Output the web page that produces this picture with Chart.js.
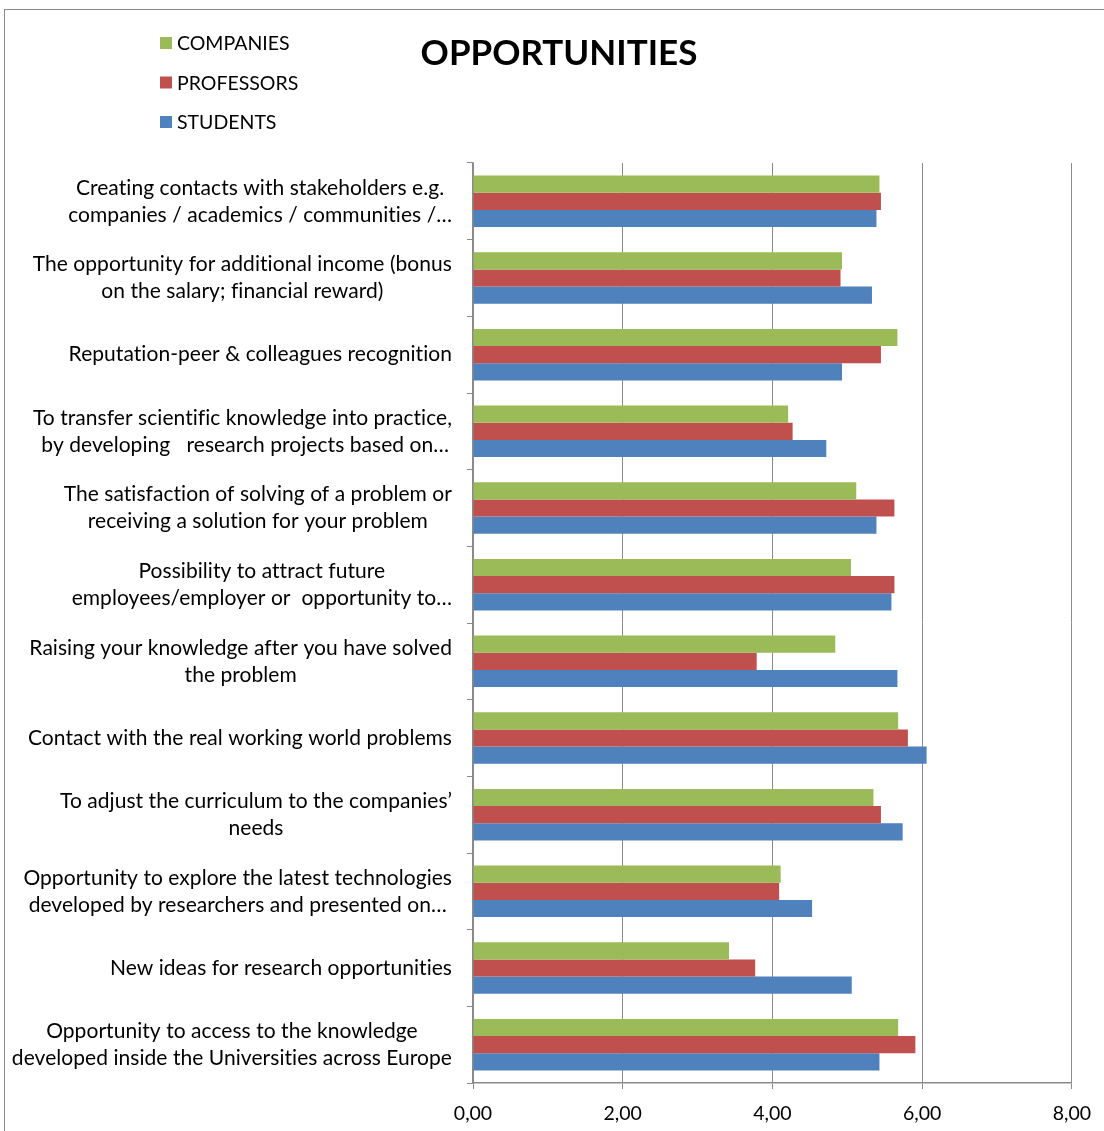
<!DOCTYPE html>
<html>
<head>
<meta charset="utf-8">
<title>OPPORTUNITIES</title>
<script src="https://cdn.jsdelivr.net/npm/chart.js@4.4.1/dist/chart.umd.min.js"></script>
<style>
  html, body { margin: 0; padding: 0; background: #fff; }
  #wrap { position: relative; width: 1104px; height: 1131px; }
</style>
</head>
<body>
<div id="wrap"><canvas id="chart"></canvas></div>
<script>
// Category labels (one entry per line of the wrapped label)
const categories = [
  ["Creating contacts with stakeholders e.g.", "companies / academics / communities /…"],
  ["The opportunity for additional income (bonus", "on the salary; financial reward)"],
  ["Reputation-peer & colleagues recognition"],
  ["To transfer scientific knowledge into practice,", " by developing   research projects based on…"],
  ["The satisfaction of solving of a problem or", "receiving a solution for your problem"],
  ["Possibility to attract future", "employees/employer or  opportunity to…"],
  ["Raising your knowledge after you have solved", "the problem"],
  ["Contact with the real working world problems"],
  ["To adjust the curriculum to the companies’", "needs"],
  ["Opportunity to explore the latest technologies", "developed by researchers and presented on…"],
  ["New ideas for research opportunities"],
  ["Opportunity to access to the knowledge", "developed inside the Universities across Europe"]
];

const seriesNames = ["COMPANIES", "PROFESSORS", "STUDENTS"];

const companies  = [5.43, 4.93, 5.67, 4.21, 5.12, 5.05, 4.84, 5.68, 5.35, 4.11, 3.42, 5.68];
const professors = [5.45, 4.91, 5.45, 4.27, 5.63, 5.63, 3.79, 5.81, 5.45, 4.09, 3.77, 5.91];
const students   = [5.39, 5.33, 4.93, 4.72, 5.39, 5.59, 5.67, 6.06, 5.74, 4.53, 5.06, 5.43];

const xTicks = [0, 2, 4, 6, 8];

const chartTitle = "OPPORTUNITIES";

const COLORS = ["#9BBB59", "#C0504D", "#4F81BD"];
const GRID = "#8a8a8a";
const FONT = "Lato, 'Open Sans', sans-serif";

// Outer frame of the chart object
const framePlugin = {
  id: 'frame',
  beforeDraw(chart) {
    const ctx = chart.ctx;
    ctx.save();
    ctx.strokeStyle = GRID;
    ctx.lineWidth = 1;
    ctx.strokeRect(4.5, 9.5, 1300, 1300);
    ctx.restore();
  }
};

// Category labels: each block right-aligned against the axis, lines centred within the block
const categoryLabelPlugin = {
  id: 'categoryLabels',
  afterDraw(chart) {
    const ctx = chart.ctx;
    const yScale = chart.scales.y;
    const right = chart.chartArea.left - 21;
    const lineH = 27;
    ctx.save();
    ctx.font = "21px " + FONT;
    if ('letterSpacing' in ctx) ctx.letterSpacing = "0.05px"; // keeps "ti"/"fi" as separate letters
    ctx.fillStyle = "#000";
    ctx.textAlign = "center";
    ctx.textBaseline = "middle";
    chart.data.labels.forEach((lines, i) => {
      const cy = yScale.getPixelForValue(i);
      const w = Math.max(...lines.map(l => ctx.measureText(l).width));
      const cx = right - w / 2;
      lines.forEach((l, k) => {
        ctx.fillText(l, cx, cy + (k - (lines.length - 1) / 2) * lineH);
      });
    });
    ctx.restore();
  }
};

// Title and vertical legend in the top band
const headerPlugin = {
  id: 'header',
  afterDraw(chart) {
    const ctx = chart.ctx;
    ctx.save();
    ctx.fillStyle = "#000";
    ctx.textBaseline = "middle";
    ctx.textAlign = "center";
    ctx.font = "bold 35px " + FONT;
    ctx.fillText(chartTitle, 559, 54);

    ctx.textAlign = "left";
    ctx.font = "19.5px " + FONT;
    const rows = [43, 82.5, 122];
    chart.data.datasets.forEach((ds, i) => {
      ctx.fillStyle = ds.backgroundColor;
      ctx.fillRect(160, rows[i] - 6, 12, 12);
      ctx.fillStyle = "#000";
      ctx.fillText(ds.label, 177, rows[i] + 1);
    });
    ctx.restore();
  }
};

new Chart(document.getElementById('chart'), {
  type: 'bar',
  data: {
    labels: categories,
    datasets: [
      { label: seriesNames[0], data: companies,  backgroundColor: COLORS[0] },
      { label: seriesNames[1], data: professors, backgroundColor: COLORS[1] },
      { label: seriesNames[2], data: students,   backgroundColor: COLORS[2] }
    ]
  },
  options: {
    indexAxis: 'y',
    responsive: true,
    maintainAspectRatio: false,
    animation: false,
    devicePixelRatio: 1,
    layout: { padding: { top: 163, right: 32, left: 0, bottom: 0 } },
    datasets: { bar: { categoryPercentage: 0.672, barPercentage: 1.0 } },
    plugins: {
      legend: { display: false },
      title: { display: false },
      tooltip: { enabled: false }
    },
    scales: {
      x: {
        type: 'linear',
        position: 'bottom',
        min: 0,
        max: 8,
        afterBuildTicks(scale) { scale.ticks = xTicks.map(v => ({ value: v })); },
        afterFit(scale) { scale.height = 48; },
        ticks: {
          color: "#000",
          font: { family: FONT, size: 19.5 },
          padding: 13,
          callback: v => v.toFixed(2).replace('.', ',')
        },
        grid: { color: GRID, lineWidth: 1, tickLength: 6 },
        border: { color: GRID, width: 1.5 }
      },
      y: {
        type: 'category',
        position: 'left',
        afterFit(scale) { scale.width = 473; },
        ticks: { display: false },
        grid: { drawOnChartArea: false, color: GRID, tickLength: 6, offset: true },
        border: { color: GRID, width: 1.5 }
      }
    }
  },
  plugins: [framePlugin, categoryLabelPlugin, headerPlugin]
});
</script>
</body>
</html>
